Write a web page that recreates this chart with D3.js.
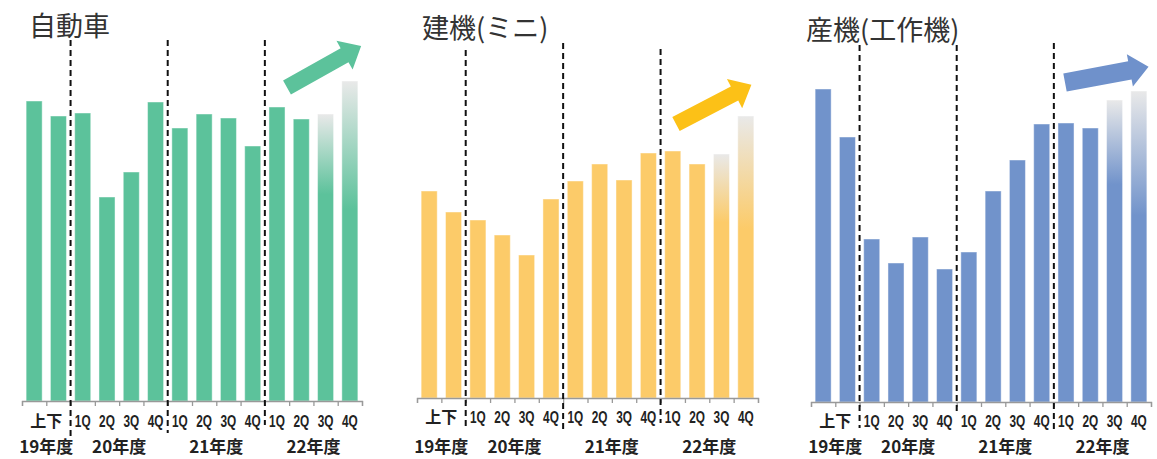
<!DOCTYPE html>
<html>
  <head>
    <meta charset="utf-8">
    <title>自動車・建機・産機</title>
    <style>
      body { margin: 0; background: #fff; }
      svg { display: block; }
    </style>
  </head>
  <body>
  <div id="chart"></div>
  <script src="https://d3js.org/d3.v7.min.js"></script>
  <script>
    // データ(グラフから読み取った相対値)
    var titles = ["自動車", "建機(ミニ)", "産機(工作機)"];
    var autoValues = [300, 285, 288, 204, 229, 299, 273, 287, 283, 255, 294, 282, 287, 320];
    var miniValues = [207, 186, 178, 163, 143, 199, 217, 234, 218, 245, 247, 234, 244, 282];
    var machineValues = [313, 265, 163, 139, 165, 133, 150, 211, 242, 278, 279, 274, 302, 311];
    var periodLabels = ["上下", "1Q", "2Q", "3Q", "4Q", "1Q", "2Q", "3Q", "4Q", "1Q", "2Q", "3Q", "4Q"];
    var periodSpans = [2, 1, 1, 1, 1, 1, 1, 1, 1, 1, 1, 1, 1];
    var yearLabels = ["19年度", "20年度", "21年度", "22年度"];
    var yearSpans = [2, 4, 4, 4];
    var forecastFrom = 12; // 22年度3Q以降は見通し

    // パネルごとのレイアウト
    var panels = [
      { title: titles[0], values: autoValues, color: "#5cc29b", arrowColor: "#5cc29b",
        x0: 22, x1: 362, base: 401, titleX: 29, titleY: 36, labelY: 427, yearY: 453,
        dashTop: [40, 40, 40], dashBottom: [437, 433, 425],
        arrow: { x: 287, y: 87.5, angle: -29.3, shaft: 16 } },
      { title: titles[1], values: miniValues, color: "#fccb69", arrowColor: "#fcc117",
        x0: 417, x1: 758, base: 398, titleX: 422, titleY: 38, labelY: 423, yearY: 453,
        dashTop: [50, 43, 49], dashBottom: [428, 433, 423],
        arrow: { x: 676, y: 124, angle: -27.5, shaft: 16 } },
      { title: titles[2], values: machineValues, color: "#7193cb", arrowColor: "#6f91cb",
        x0: 811, x1: 1151, base: 402, titleX: 806, titleY: 40, labelY: 427, yearY: 453,
        dashTop: [45, 45, 43], dashBottom: [428, 413, 433],
        arrow: { x: 1065, y: 82.5, angle: -10.6, shaft: 18.5 } }
    ];

    var svg = d3.select("#chart")
                .append("svg")
                  .attr("width", 1157)
                  .attr("height", 459);
    var defs = svg.append("defs");

    // 累積位置から区間の中心を求める
    function spanCenters(spans) {
      var acc = 0;
      return spans.map(function (s) { var c = acc + s / 2; acc += s; return c; });
    }
    var periodCenters = spanCenters(periodSpans);
    var yearCenters = spanCenters(yearSpans);
    var dividerSlots = [2, 6, 10];

    panels.forEach(function (p, pi) {
      var idx = d3.range(p.values.length);
      var x = d3.scaleBand()
                .domain(idx)
                .range([p.x0, p.x1])
                .paddingInner(0.34)
                .paddingOuter(0.17);
      var slot = d3.scaleLinear()
                   .domain([0, p.values.length])
                   .range([p.x0, p.x1]);
      var y = d3.scaleLinear()
                .domain([0, 330])
                .range([p.base, p.base - 330]);

      // 見通し部分のグラデーション(2本ぶん)
      [0.28, 0.4].forEach(function (k, gi) {
        var g = defs.append("linearGradient")
                      .attr("id", "fade" + pi + "_" + gi)
                      .attr("x1", 0).attr("y1", 0)
                      .attr("x2", 0).attr("y2", 1);
        g.append("stop").attr("offset", 0).attr("stop-color", "#e9e9e9");
        g.append("stop").attr("offset", k).attr("stop-color", p.color);
        g.append("stop").attr("offset", 1).attr("stop-color", p.color);
      });

      var g = svg.append("g");

      g.append("text")
         .attr("x", p.titleX)
         .attr("y", p.titleY)
         .style("font-family", "'Noto Sans CJK JP', sans-serif")
         .style("font-size", "27px")
         .style("fill", "#333")
         .text(p.title);

      g.append("g")
        .selectAll("rect")
        .data(p.values)
        .enter()
        .append("rect")
          .attr("x", function (d, i) { return x(i); })
          .attr("y", function (d) { return y(d); })
          .attr("width", x.bandwidth())
          .attr("height", function (d) { return y(0) - y(d); })
          .attr("fill", function (d, i) {
            return i < forecastFrom ? p.color : "url(#fade" + pi + "_" + (i - forecastFrom) + ")";
          })
          .attr("stroke", "#fff")
          .attr("stroke-opacity", 0.45)
          .attr("stroke-width", 1);

      // 横軸
      var axis = g.append("g")
                    .attr("transform", `translate(0, ${p.base})`)
                    .call(
                      d3.axisBottom(slot)
                        .tickValues(d3.range(p.values.length + 1))
                        .tickFormat("")
                        .tickSize(5)
                        .tickSizeOuter(5)
                    );
      axis.selectAll("path, line").attr("stroke", "#999").attr("stroke-width", 1.3);

      // 年度の区切り線
      g.append("g")
        .selectAll("line")
        .data(dividerSlots)
        .enter()
        .append("line")
          .attr("x1", function (d) { return slot(d); })
          .attr("x2", function (d) { return slot(d); })
          .attr("y1", function (d, i) { return p.dashTop[i]; })
          .attr("y2", function (d, i) { return p.dashBottom[i]; })
          .attr("stroke", "#111")
          .attr("stroke-width", 2)
          .attr("stroke-dasharray", "6,4");

      g.append("g")
        .selectAll("text")
        .data(periodLabels)
        .enter()
        .append("text")
          .attr("transform", function (d, i) {
            return `translate(${slot(periodCenters[i])}, ${p.labelY}) scale(${i === 0 ? 1 : 0.74}, 1)`;
          })
          .attr("text-anchor", "middle")
          .style("font-family", function (d, i) {
            return i === 0 ? "'Noto Sans CJK JP', sans-serif" : "'Liberation Sans Narrow', 'Liberation Sans', sans-serif";
          })
          .style("font-weight", "bold")
          .style("font-size", "16px")
          .style("fill", "#222")
          .text(function (d) { return d; });

      g.append("g")
        .selectAll("text")
        .data(yearLabels)
        .enter()
        .append("text")
          .attr("x", function (d, i) { return slot(yearCenters[i]); })
          .attr("y", p.yearY)
          .attr("text-anchor", "middle")
          .style("font-family", "'Noto Sans CJK JP', sans-serif")
          .style("font-weight", "bold")
          .style("font-size", "17px")
          .style("fill", "#222")
          .text(function (d) { return d; });

      // 右上がりの矢印
      var L = 85, w = p.arrow.shaft / 2, H = 16.5, h = 19;
      var pts = [[0, -w], [L - h, -w], [L - h, -H], [L, 0], [L - h, H], [L - h, w], [0, w]];
      g.append("polygon")
         .attr("points", pts.map(function (q) { return q.join(","); }).join(" "))
         .attr("transform", `translate(${p.arrow.x}, ${p.arrow.y}) rotate(${p.arrow.angle})`)
         .attr("fill", p.arrowColor);
    });
  </script>
  </body>
</html>
